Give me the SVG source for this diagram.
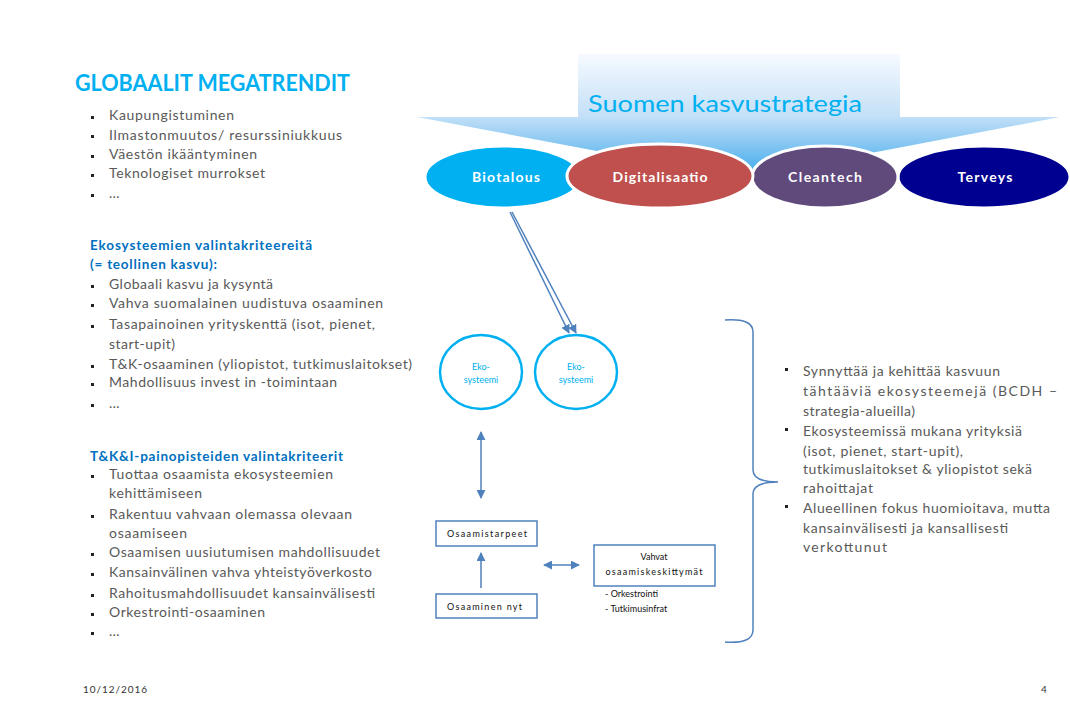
<svg xmlns="http://www.w3.org/2000/svg" width="1070" height="717" viewBox="0 0 1070 717">
<style>
text{font-family:Lato,"Open Sans","Liberation Sans",sans-serif}
.t{font-size:14px;fill:#595959}
.h{font-size:13.5px;fill:#0070c0;font-weight:bold}
.bul{fill:#222}
.et{font-size:14px;fill:#fff;font-weight:bold;text-anchor:middle}
.ell{stroke:#fff;stroke-width:3}
.eco{fill:#fff;stroke:#00b0f0;stroke-width:2.5}
.ecot{font-size:9px;fill:#00b0f0;text-anchor:middle}
.box{fill:#fff;stroke:#4f81bd;stroke-width:1.5}
.bt{font-size:9px;fill:#111}
.con{stroke:#4f81bd;stroke-width:1.5;fill:none}
.rt{font-size:14px;fill:#595959}
</style>
<defs>
<linearGradient id="g" gradientUnits="userSpaceOnUse" x1="0" y1="54" x2="0" y2="178">
<stop offset="0" stop-color="#f6faff"/>
<stop offset="0.5" stop-color="#c4e0f7"/>
<stop offset="1" stop-color="#3aa8ec"/>
</linearGradient>
<marker id="ah" viewBox="0 0 10 10" refX="9" refY="5" markerWidth="6" markerHeight="6" orient="auto-start-reverse">
<path d="M0,0 L10,5 L0,10 z" fill="#4f81bd"/>
</marker>
</defs>
<rect width="1070" height="717" fill="#fff"/>

<g id="megatrendit">
<text x="75" y="91" font-size="23" font-weight="bold" fill="#00b0f0" textLength="275" lengthAdjust="spacingAndGlyphs">GLOBAALIT MEGATRENDIT</text>
<g class="bul"><rect x="91" y="116" width="3" height="3"/><rect x="91" y="135" width="3" height="3"/><rect x="91" y="155" width="3" height="3"/><rect x="91" y="174" width="3" height="3"/><rect x="91" y="194" width="3" height="3"/></g>
<text class="t" x="109" y="120" textLength="125">Kaupungistuminen</text>
<text class="t" x="109" y="140" textLength="233">Ilmastonmuutos/ resurssiniukkuus</text>
<text class="t" x="109" y="159" textLength="148">Väestön ikääntyminen</text>
<text class="t" x="109" y="178" textLength="156">Teknologiset murrokset</text>
<text class="t" x="109" y="198">…</text>
</g>

<g id="ekosysteemikriteerit">
<text class="h" x="90" y="250" textLength="222">Ekosysteemien valintakriteereitä</text>
<text class="h" x="90" y="269" textLength="127">(= teollinen kasvu):</text>
<g class="bul"><rect x="91" y="285" width="3" height="3"/><rect x="91" y="304" width="3" height="3"/><rect x="91" y="325" width="3" height="3"/><rect x="91" y="365" width="3" height="3"/><rect x="91" y="383" width="3" height="3"/><rect x="91" y="404" width="3" height="3"/></g>
<text class="t" x="109" y="289" textLength="164">Globaali kasvu ja kysyntä</text>
<text class="t" x="109" y="308" textLength="274">Vahva suomalainen uudistuva osaaminen</text>
<text class="t" x="109" y="329" textLength="266">Tasapainoinen yrityskenttä (isot, pienet,</text>
<text class="t" x="109" y="349" textLength="66">start-upit)</text>
<text class="t" x="109" y="369" textLength="303">T&amp;K-osaaminen (yliopistot, tutkimuslaitokset)</text>
<text class="t" x="109" y="387" textLength="228">Mahdollisuus invest in -toimintaan</text>
<text class="t" x="109" y="408">…</text>
</g>

<g id="painopistekriteerit">
<text class="h" x="90" y="461" textLength="253">T&amp;K&amp;I-painopisteiden valintakriteerit</text>
<g class="bul"><rect x="91" y="475" width="3" height="3"/><rect x="91" y="515" width="3" height="3"/><rect x="91" y="553" width="3" height="3"/><rect x="91" y="573" width="3" height="3"/><rect x="91" y="594" width="3" height="3"/><rect x="91" y="613" width="3" height="3"/><rect x="91" y="632" width="3" height="3"/></g>
<text class="t" x="109" y="479" textLength="224">Tuottaa osaamista ekosysteemien</text>
<text class="t" x="109" y="498" textLength="93">kehittämiseen</text>
<text class="t" x="109" y="519" textLength="243">Rakentuu vahvaan olemassa olevaan</text>
<text class="t" x="109" y="538" textLength="78">osaamiseen</text>
<text class="t" x="109" y="557" textLength="271">Osaamisen uusiutumisen mahdollisuudet</text>
<text class="t" x="109" y="577" textLength="263">Kansainvälinen vahva yhteistyöverkosto</text>
<text class="t" x="109" y="598" textLength="266">Rahoitusmahdollisuudet kansainvälisesti</text>
<text class="t" x="109" y="617" textLength="156">Orkestrointi-osaaminen</text>
<text class="t" x="109" y="636">…</text>
</g>

<g id="kasvustrategia">
<path d="M578,54 H900 V117 H1060 L740,178 L417,117 H578 Z" fill="url(#g)"/>
<text x="588" y="112" font-size="24" fill="#00b0f0" textLength="274" lengthAdjust="spacingAndGlyphs">Suomen kasvustrategia</text>
</g>

<g id="biotalous">
<ellipse class="ell" cx="503" cy="177" rx="78" ry="31" fill="#00b0f0"/>
<text class="et" x="506" y="182" textLength="68">Biotalous</text>
</g>
<g id="terveys">
<ellipse class="ell" cx="984" cy="177" rx="86" ry="31" fill="#000090"/>
<text class="et" x="985" y="182" textLength="55">Terveys</text>
</g>
<g id="cleantech">
<ellipse class="ell" cx="825" cy="177" rx="73" ry="31" fill="#604a7b"/>
<text class="et" x="825" y="182" textLength="74">Cleantech</text>
</g>
<g id="digitalisaatio">
<ellipse class="ell" cx="660" cy="176" rx="93" ry="32" fill="#c0504d"/>
<text class="et" x="660" y="182" textLength="95">Digitalisaatio</text>
</g>

<g id="connectors">
<line class="con" x1="510" y1="212" x2="569" y2="333" marker-end="url(#ah)"/>
<line class="con" x1="512" y1="212" x2="576" y2="333" marker-end="url(#ah)"/>
<line class="con" x1="481" y1="432" x2="481" y2="498" marker-start="url(#ah)" marker-end="url(#ah)"/>
<line class="con" x1="481" y1="588" x2="481" y2="553" marker-end="url(#ah)"/>
<line class="con" x1="544" y1="565" x2="579" y2="565" marker-start="url(#ah)" marker-end="url(#ah)"/>
<path d="M725,320 Q753,318 753,332 V470 Q753,482 778,482 Q753,482 753,494 V630 Q753,644 725,642" fill="none" stroke="#4f81bd" stroke-width="1.5"/>
</g>

<g id="ekosysteemi1">
<ellipse class="eco" cx="481" cy="372" rx="41" ry="37"/>
<text class="ecot" x="481" y="370">Eko-</text>
<text class="ecot" x="481" y="383">systeemi</text>
</g>
<g id="ekosysteemi2">
<ellipse class="eco" cx="576" cy="372" rx="41" ry="37"/>
<text class="ecot" x="576" y="370">Eko-</text>
<text class="ecot" x="576" y="383">systeemi</text>
</g>

<g id="osaamistarpeet">
<rect class="box" x="436" y="521" width="101" height="25"/>
<text class="bt" x="447" y="537" textLength="80">Osaamistarpeet</text>
</g>
<g id="osaaminennyt">
<rect class="box" x="436" y="594" width="101" height="24"/>
<text class="bt" x="447" y="610" textLength="75">Osaaminen nyt</text>
</g>
<g id="osaamiskeskittymat">
<rect class="box" x="594" y="545" width="121" height="41"/>
<text class="bt" x="654" y="560" text-anchor="middle">Vahvat</text>
<text class="bt" x="654" y="575" text-anchor="middle" textLength="97">osaamiskeskittymät</text>
<text class="bt" x="605" y="597">- Orkestrointi</text>
<text class="bt" x="605" y="612">- Tutkimusinfrat</text>
</g>

<g id="kuvaus">
<g class="bul"><rect x="785" y="368" width="3" height="3"/><rect x="785" y="428" width="3" height="3"/><rect x="785" y="505" width="3" height="3"/></g>
<text class="rt" x="803" y="376" textLength="197">Synnyttää ja kehittää kasvuun</text>
<text class="rt" x="803" y="396" textLength="254">tähtääviä ekosysteemejä (BCDH –</text>
<text class="rt" x="803" y="416" textLength="112">strategia-alueilla)</text>
<text class="rt" x="803" y="436" textLength="219">Ekosysteemissä mukana yrityksiä</text>
<text class="rt" x="803" y="456" textLength="160">(isot, pienet, start-upit),</text>
<text class="rt" x="803" y="474" textLength="229">tutkimuslaitokset &amp; yliopistot sekä</text>
<text class="rt" x="803" y="493" textLength="70">rahoittajat</text>
<text class="rt" x="803" y="513" textLength="247">Alueellinen fokus huomioitava, mutta</text>
<text class="rt" x="803" y="533" textLength="205">kansainvälisesti ja kansallisesti</text>
<text class="rt" x="803" y="552" textLength="84">verkottunut</text>
</g>

<g id="footer">
<text x="83" y="693" font-size="10" fill="#333" textLength="64">10/12/2016</text>
<text x="1041" y="693" font-size="10" fill="#333">4</text>
</g>
</svg>
